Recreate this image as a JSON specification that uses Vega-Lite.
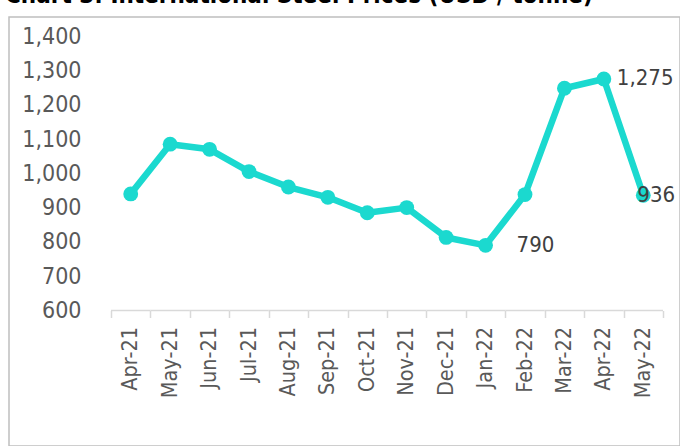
{
  "$schema": "https://vega.github.io/schema/vega-lite/v6.json",
  "width": 671,
  "height": 429,
  "autosize": {"type": "none"},
  "padding": {"left": 9, "top": 17, "right": 0, "bottom": 0},
  "background": "white",
  "title": {
    "text": "Chart 3: International Steel Prices (USD / tonne)",
    "anchor": "start",
    "frame": "group",
    "font": "DejaVu Sans Condensed",
    "fontWeight": "bold",
    "fontSize": 24,
    "color": "#000000",
    "baseline": "alphabetic",
    "offset": -10,
    "dx": -4
  },
  "config": {
    "view": {"stroke": "#BFBFBF", "strokeWidth": 1.5},
    "font": "DejaVu Sans Condensed"
  },
  "data": {
    "values": [
      {"month": "Apr-21", "price": 940},
      {"month": "May-21", "price": 1085},
      {"month": "Jun-21", "price": 1070},
      {"month": "Jul-21", "price": 1005},
      {"month": "Aug-21", "price": 960},
      {"month": "Sep-21", "price": 930},
      {"month": "Oct-21", "price": 885},
      {"month": "Nov-21", "price": 900},
      {"month": "Dec-21", "price": 813},
      {"month": "Jan-22", "price": 790},
      {"month": "Feb-22", "price": 938},
      {"month": "Mar-22", "price": 1248},
      {"month": "Apr-22", "price": 1275},
      {"month": "May-22", "price": 936}
    ]
  },
  "encoding": {
    "x": {
      "field": "month",
      "type": "nominal",
      "sort": null,
      "scale": {"type": "band", "paddingInner": 0, "paddingOuter": 0, "range": [102, 654]},
      "axis": {
        "title": null,
        "domain": false,
        "grid": false,
        "ticks": true,
        "tickBand": "extent",
        "tickSize": 7,
        "tickColor": "#D9D9D9",
        "tickWidth": 1.5,
        "labelAngle": -90,
        "labelFontSize": 21.5,
        "labelColor": "#595959",
        "labelPadding": 9,
        "offset": -135.5
      }
    },
    "y": {
      "field": "price",
      "type": "quantitative",
      "scale": {"domain": [205, 1455.7], "nice": false, "zero": false},
      "axis": {
        "title": null,
        "values": [600, 700, 800, 900, 1000, 1100, 1200, 1300, 1400],
        "format": ",.0f",
        "domain": false,
        "ticks": false,
        "grid": false,
        "labelFontSize": 23,
        "labelColor": "#595959",
        "labelPadding": 2,
        "offset": -74
      }
    }
  },
  "layer": [
    {
      "mark": {"type": "rule", "color": "#D9D9D9", "strokeWidth": 1.5},
      "encoding": {
        "x": {"field": "month", "type": "nominal", "sort": null, "bandPosition": 0},
        "x2": {"field": "month", "bandPosition": 1},
        "y": {"datum": 600, "type": "quantitative"}
      }
    },
    {
      "mark": {"type": "line", "color": "#1BD9CF", "strokeWidth": 6.5, "strokeCap": "round", "strokeJoin": "round"}
    },
    {
      "mark": {"type": "point", "filled": true, "color": "#1BD9CF", "size": 220, "opacity": 1}
    },
    {
      "transform": [{"filter": "datum.month === 'Jan-22'"}],
      "mark": {"type": "text", "align": "left", "baseline": "middle", "dx": 31, "fontSize": 22, "color": "#404040"},
      "encoding": {"text": {"field": "price", "type": "quantitative", "format": ","}}
    },
    {
      "transform": [{"filter": "datum.month === 'Apr-22'"}],
      "mark": {"type": "text", "align": "left", "baseline": "middle", "dx": 13, "dy": -1, "fontSize": 22, "color": "#404040"},
      "encoding": {"text": {"field": "price", "type": "quantitative", "format": ","}}
    },
    {
      "transform": [{"filter": "datum.month === 'May-22'"}],
      "mark": {"type": "text", "align": "left", "baseline": "middle", "dx": -6, "fontSize": 22, "color": "#404040"},
      "encoding": {"text": {"field": "price", "type": "quantitative", "format": ","}}
    }
  ]
}
